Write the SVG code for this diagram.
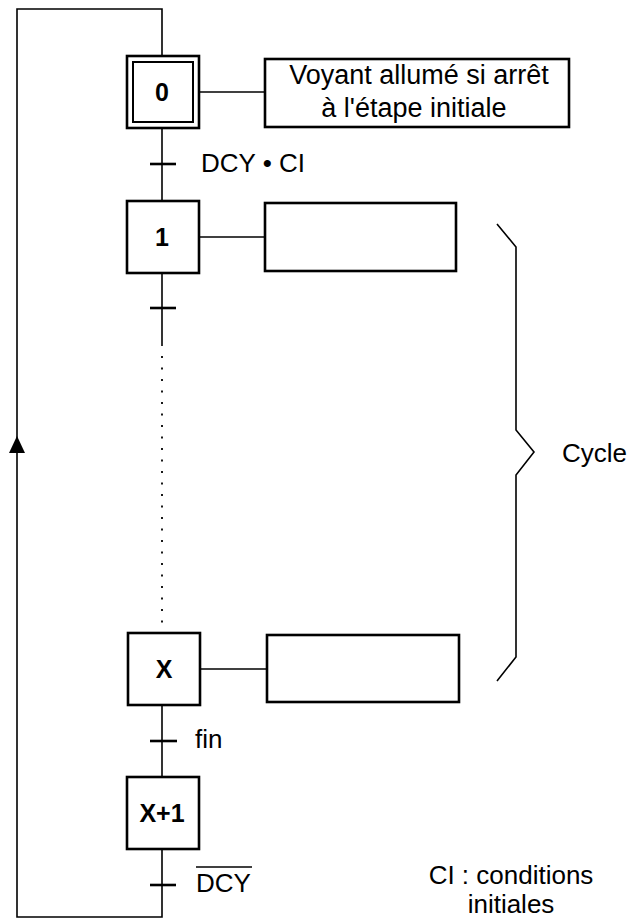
<svg xmlns="http://www.w3.org/2000/svg" width="643" height="924" viewBox="0 0 643 924">
<style>
.box{fill:#fff;stroke:#000;stroke-width:2.6}
.ln{fill:none;stroke:#000;stroke-width:1.6}
.tick{stroke:#000;stroke-width:2.6}
.t{font-family:"Liberation Sans",Arial,sans-serif;font-size:26px;fill:#000}
.a{font-size:27px}
.s{font-family:"Liberation Sans",Arial,sans-serif;font-size:25px;font-weight:bold;fill:#000;text-anchor:middle}
</style>
<g id="connectors">
<polyline class="ln" points="162,128 162,200"/>
<line class="tick" x1="150" y1="164" x2="176" y2="164"/>
<polyline class="ln" points="162,272 162,346"/>
<line class="tick" x1="150" y1="308" x2="176" y2="308"/>
<line x1="162" y1="356" x2="162" y2="626" stroke="#000" stroke-width="1.8" stroke-dasharray="2 9.5"/>
<polyline class="ln" points="162,705 162,777"/>
<line class="tick" x1="150" y1="741" x2="177" y2="741"/>
<polyline class="ln" points="162,849 162,917 17,917 17,9 162,9 162,56"/>
<line class="tick" x1="150" y1="885" x2="176" y2="885"/>
<polygon points="17,436 9,453 25,453" fill="#000"/>
<line class="ln" x1="199" y1="92" x2="265" y2="92"/>
<line class="ln" x1="199" y1="237" x2="265" y2="237"/>
<line class="ln" x1="200" y1="669" x2="267" y2="669"/>
</g>
<g id="step0">
<rect class="box" x="127" y="56" width="72" height="72"/>
<rect x="133" y="62" width="60" height="60" fill="none" stroke="#000" stroke-width="2"/>
<text class="s" x="162" y="101">0</text>
</g>
<g id="action0">
<rect class="box" x="265" y="59" width="304" height="68"/>
<text class="t a" x="419" y="84" text-anchor="middle">Voyant allumé si arrêt</text>
<text class="t a" x="414" y="117" text-anchor="middle">à l'étape initiale</text>
</g>
<g id="t01"><text class="t" x="201" y="172">DCY • CI</text></g>
<g id="step1">
<rect class="box" x="127" y="201" width="72" height="72"/>
<text class="s" x="162" y="246">1</text>
</g>
<g id="action1"><rect class="box" x="265" y="203" width="191" height="68"/></g>
<g id="stepX">
<rect class="box" x="128" y="633" width="72" height="72"/>
<text class="s" x="164" y="678">X</text>
</g>
<g id="actionX"><rect class="box" x="267" y="635" width="192" height="67"/></g>
<g id="tfin"><text class="t" x="195" y="748">fin</text></g>
<g id="stepX1">
<rect class="box" x="127" y="777" width="72" height="72"/>
<text class="s" x="162" y="822">X+1</text>
</g>
<g id="tdcy">
<text class="t" x="196" y="892">DCY</text>
<line x1="196" y1="867" x2="252" y2="867" stroke="#000" stroke-width="1.6"/>
</g>
<g id="brace">
<polyline class="ln" points="497,224 516,247 516,430 534,452 516,475 516,657 497,681"/>
<text class="t" x="562" y="462">Cycle</text>
</g>
<g id="note">
<text class="t" x="511" y="884" text-anchor="middle">CI : conditions</text>
<text class="t" x="511" y="913" text-anchor="middle">initiales</text>
</g>
</svg>
